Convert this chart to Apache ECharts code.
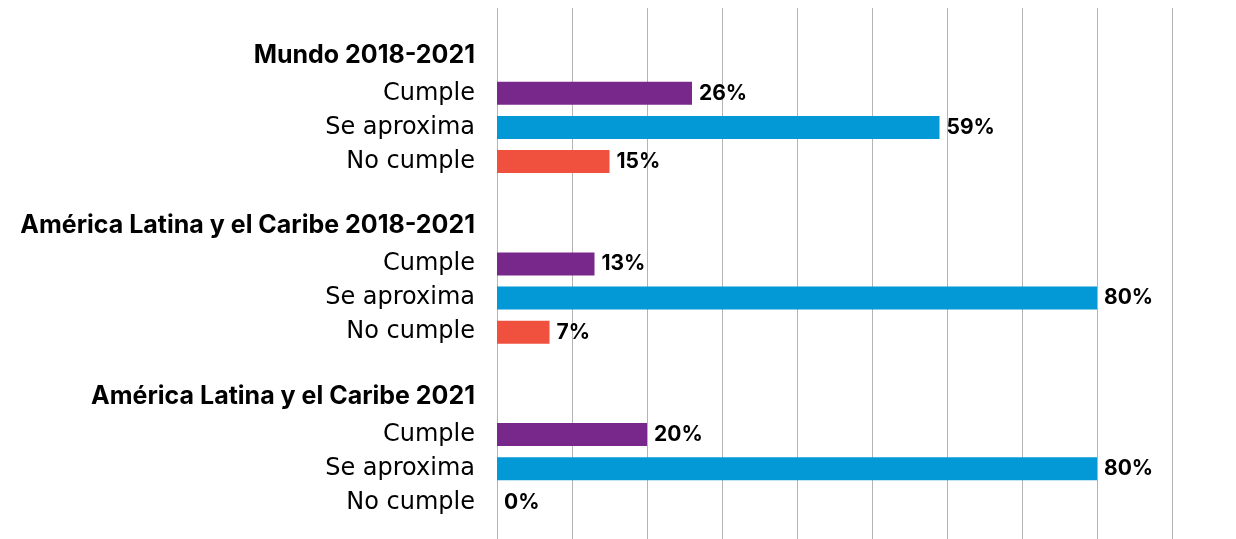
<!DOCTYPE html>
<html>
<head>
<meta charset="utf-8">
<script src="https://cdn.jsdelivr.net/npm/echarts@6/dist/echarts.min.js"></script>
<style>
  html, body { margin: 0; padding: 0; background: #fff; }
  #chart { width: 1236px; height: 539px; }
</style>
</head>
<body>
<div id="chart"></div>
<script>
const groups = ['Mundo 2018-2021', 'América Latina y el Caribe 2018-2021', 'América Latina y el Caribe 2021'];
const levels = ['Cumple', 'Se aproxima', 'No cumple'];
const cumple = [26, 13, 20];
const seAproxima = [59, 80, 80];
const noCumple = [15, 7, 0];
const xTicks = [0, 10, 20, 30, 40, 50, 60, 70, 80, 90];

const colors = ['#77288a', '#0398d6', '#ef513e'];
const levelValues = [cumple, seAproxima, noCumple];

// rows: blank, header, 3 levels ... per group, plus a trailing blank
const rows = [];
const headerRows = new Set();
const levelRows = [[], [], []];
groups.forEach((g, gi) => {
  rows.push('');
  headerRows.add(rows.length);
  rows.push(g);
  levels.forEach((l, li) => {
    levelRows[li][gi] = rows.length;
    rows.push(l);
  });
});
rows.push('');

const series = levels.map((name, li) => {
  const data = rows.map(() => '-');
  levelValues[li].forEach((v, gi) => { data[levelRows[li][gi]] = v; });
  return {
    name: name,
    type: 'bar',
    data: data,
    barWidth: 23,
    barGap: '-100%',
    itemStyle: { color: colors[li] },
    label: {
      show: true,
      position: 'right',
      distance: 7,
      formatter: '{c}%',
      color: '#000',
      fontWeight: 'bold',
      fontSize: 21,
      fontFamily: 'Inter'
    }
  };
});

const chart = echarts.init(document.getElementById('chart'));
chart.setOption({
  animation: false,
  grid: { left: 497, width: 675, top: 8, height: 546, outerBoundsMode: 'none' },
  xAxis: {
    type: 'value',
    min: xTicks[0],
    max: xTicks[xTicks.length - 1],
    interval: 10,
    axisLabel: { show: false },
    axisLine: { show: false },
    axisTick: { show: false },
    splitLine: { lineStyle: { color: '#b4b4b4', width: 1 } }
  },
  yAxis: {
    type: 'category',
    inverse: true,
    data: rows,
    axisLine: { show: false },
    axisTick: { show: false },
    axisLabel: {
      margin: 22,
      interval: 0,
      formatter: (val, idx) => val === '' ? '' : (headerRows.has(idx) ? '{h|' + val + '}' : '{n|' + val + '}'),
      rich: {
        h: { fontFamily: 'Inter', fontWeight: 'bold', fontSize: 25, color: '#000', padding: [0, 0, 8, 0] },
        n: { fontFamily: 'DejaVu Sans', fontSize: 24, color: '#000' }
      }
    }
  },
  series: series
});
</script>
</body>
</html>
